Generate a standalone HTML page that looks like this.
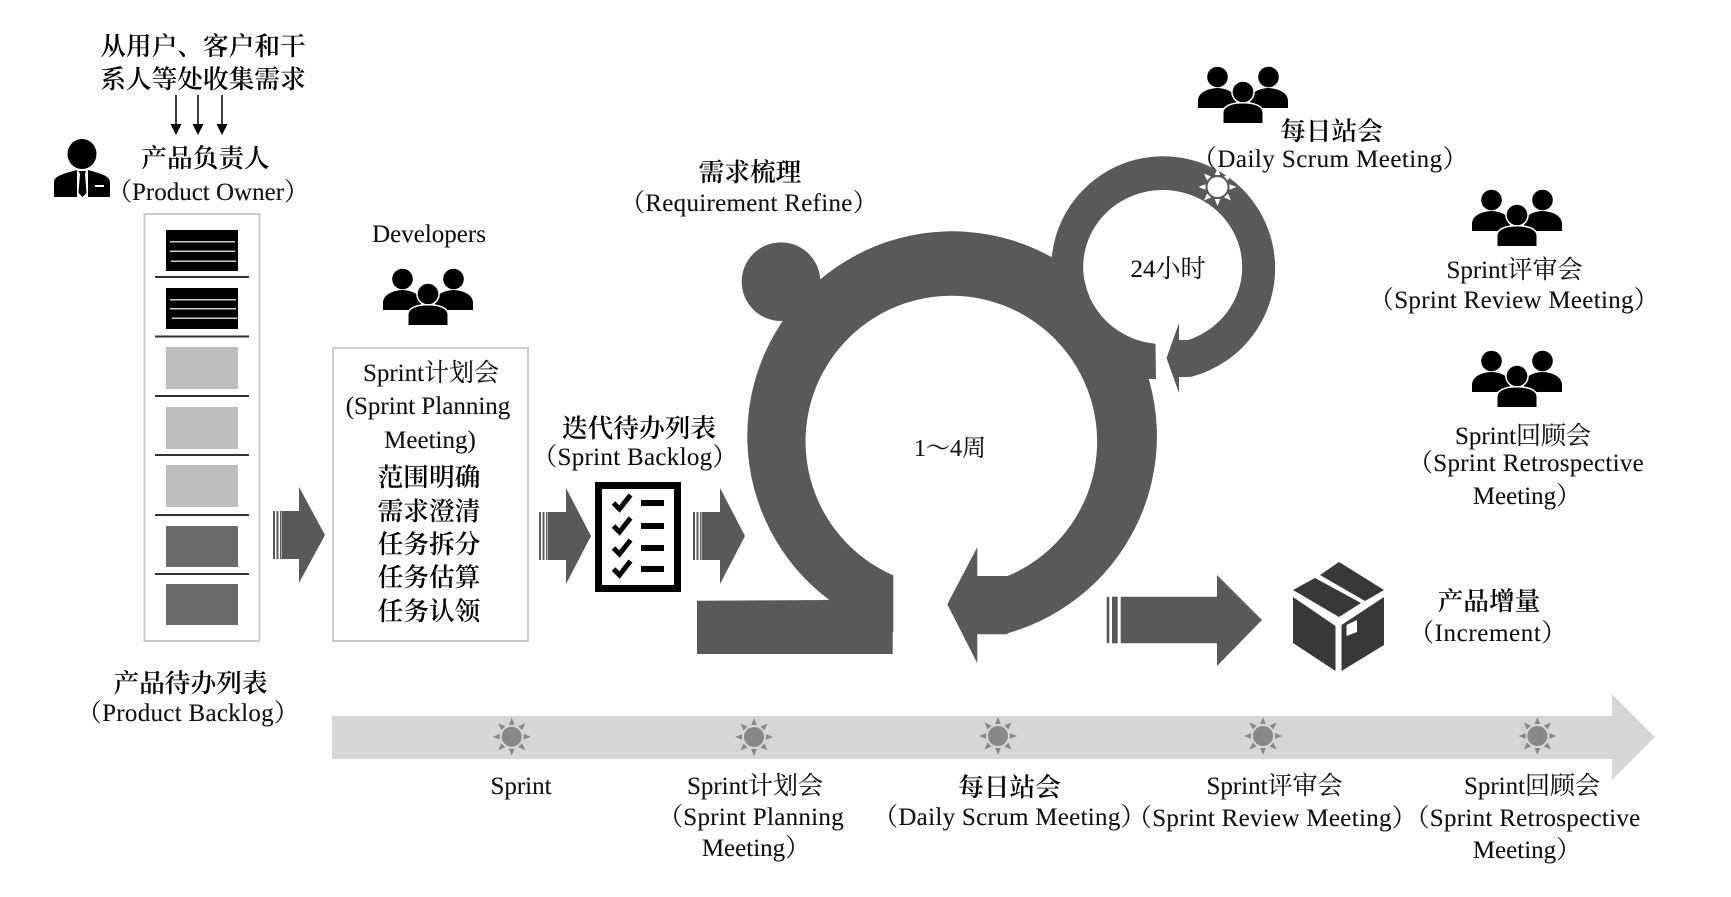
<!DOCTYPE html>
<html lang="zh"><head><meta charset="utf-8"><title>Scrum</title>
<style>
html,body{margin:0;padding:0;background:#fff;width:1731px;height:897px;overflow:hidden}
svg{display:block}
text{font-family:"Liberation Serif","Noto Serif CJK SC",serif;font-size:25px;fill:#111;text-anchor:middle;stroke:#111;stroke-width:.12px}
.b{font-weight:600;font-size:25.7px;fill:#000;stroke:none}
.s3{letter-spacing:.3px}
.s4{letter-spacing:.45px}
.s6{letter-spacing:.6px}
</style></head><body>
<svg width="1731" height="897" viewBox="0 0 1731 897" xmlns="http://www.w3.org/2000/svg">
<defs>
<g id="sun"><circle r="10"/>
<polygon points="-2.800,-12 2.800,-12 0,-19"/><polygon transform="rotate(45)" points="-2.800,-12 2.800,-12 0,-19"/><polygon transform="rotate(90)" points="-2.800,-12 2.800,-12 0,-19"/><polygon transform="rotate(135)" points="-2.800,-12 2.800,-12 0,-19"/><polygon transform="rotate(180)" points="-2.800,-12 2.800,-12 0,-19"/><polygon transform="rotate(225)" points="-2.800,-12 2.800,-12 0,-19"/><polygon transform="rotate(270)" points="-2.800,-12 2.800,-12 0,-19"/><polygon transform="rotate(315)" points="-2.800,-12 2.800,-12 0,-19"/></g>
<g id="grp">
<circle cx="19.500" cy="10" r="10.300" fill="#000"/><circle cx="70.500" cy="10" r="10.300" fill="#000"/>
<path d="M0 41V34C0 26 9 21.500 19.500 21C30 21.500 38 26 38 34V41ZM52 41V34C52 26 60 21.500 70.500 21C81 21.500 90 26 90 34V41Z" fill="#000"/>
<circle cx="45" cy="25" r="10.300" fill="#000" stroke="#fff" stroke-width="3" paint-order="stroke"/>
<path d="M25.500 56V46C25.500 39 35 36.500 45 36.500C55 36.500 64.500 39 64.500 46V56Z" fill="#000" stroke="#fff" stroke-width="3" paint-order="stroke"/>
</g>
<g id="chk"><polyline points="-9,0 -3,6 8,-8" fill="none" stroke="#000" stroke-width="5"/><rect x="18.500" y="-3" width="23" height="6" fill="#000"/></g>
</defs>

<!-- top-left labels -->
<text class="b" x="203" y="55">从用户、客户和干</text>
<text class="b" x="203" y="88">系人等处收集需求</text>
<g stroke="#000" stroke-width="1.500"><line x1="176" y1="95" x2="176" y2="126"/><line x1="198" y1="95" x2="198" y2="126"/><line x1="222" y1="95" x2="222" y2="126"/></g>
<g fill="#000"><polygon points="170.500,124 181.500,124 176,135"/><polygon points="192.500,124 203.500,124 198,135"/><polygon points="216.500,124 227.500,124 222,135"/></g>
<text class="b" x="205.500" y="167">产品负责人</text>
<text x="208" y="200">（Product Owner）</text>

<!-- person -->
<ellipse cx="82" cy="154" rx="14.500" ry="15" fill="#000"/>
<path d="M54 197V183C54 177 58 175 77 170V197ZM88 170C106 175 110 177 110 183V197H88Z" fill="#000"/>
<polygon points="78.500,171 86,171 85,174 86.500,193 82.500,197 78.500,193 80,174" fill="#000"/>
<rect x="95" y="185" width="9" height="2" fill="#fff"/>

<!-- product backlog -->
<rect x="144.500" y="214" width="115" height="427" fill="#fff" stroke="#ccc" stroke-width="2"/>
<rect x="166" y="230" width="72" height="41" fill="#000"/>
<g fill="#ccc"><rect x="170" y="241" width="65" height="1.500"/><rect x="170" y="250.500" width="65" height="1.500"/><rect x="171" y="260.500" width="65" height="1.500"/></g>
<rect x="166" y="288" width="72" height="41" fill="#000"/>
<g fill="#ccc"><rect x="170" y="299" width="66" height="1.500"/><rect x="170" y="308" width="66" height="1.500"/><rect x="172" y="317.500" width="65" height="1.500"/></g>
<g fill="#bebebe"><rect x="166" y="347" width="72" height="42"/><rect x="166" y="407" width="72" height="42"/><rect x="166" y="465" width="72" height="42"/></g>
<g fill="#6a6a6a"><rect x="166" y="526" width="72" height="41"/><rect x="166" y="584" width="72" height="41"/></g>
<g fill="#333"><rect x="155" y="276" width="94" height="2"/><rect x="155" y="335.500" width="94" height="2"/><rect x="155" y="395" width="94" height="2"/><rect x="155" y="454" width="94" height="2"/><rect x="155" y="514" width="94" height="2"/><rect x="155" y="573" width="94" height="2"/></g>
<text class="b" x="190.500" y="692">产品待办列表</text>
<text class="s3" x="188" y="721">（Product Backlog）</text>

<!-- block arrows -->
<g fill="#595959">
<path d="M299 487L325 535L299 583V559H282V511H299Z"/><path d="M273 511h2v48h-2zM276.500 511h2v48h-2zM280 511h1.500v48H280z"/>
<path d="M566 488L591 536L566 584V560H548V512H566Z"/><path d="M539 512h2v48h-2zM542.500 512h2v48h-2zM546 512h1.500v48H546z"/>
<path d="M720 488L745 536L720 584V560H702V512H720Z"/><path d="M693 512h2v48h-2zM696.500 512h2v48h-2zM700 512h1.500v48H700z"/>
<path d="M1217 575L1262 620L1217 666V643.300H1120.700V596.700H1217Z"/><path d="M1106.700 596.700h2.600v46.600h-2.600zM1112 596.700h5.700v46.600H1112z"/>
</g>

<!-- developers and planning -->
<text x="429" y="242">Developers</text>
<use href="#grp" x="383" y="269"/>
<rect x="333" y="348" width="195" height="293" fill="#fff" stroke="#ccc" stroke-width="2"/>
<text x="431" y="381">Sprint计划会</text>
<text x="428" y="414">(Sprint Planning</text>
<text x="430" y="448">Meeting)</text>
<text class="b" x="429" y="486">范围明确</text>
<text class="b" x="429" y="520">需求澄清</text>
<text class="b" x="429" y="553">任务拆分</text>
<text class="b" x="429" y="586">任务估算</text>
<text class="b" x="429" y="620">任务认领</text>

<!-- sprint backlog -->
<text class="b" x="639" y="437">迭代待办列表</text>
<text class="s3" x="635" y="465">（Sprint Backlog）</text>
<rect x="598.500" y="485.500" width="79" height="103" fill="#fff" stroke="#000" stroke-width="7"/>
<use href="#chk" x="622.500" y="503"/><use href="#chk" x="622.500" y="526"/><use href="#chk" x="622.500" y="548"/><use href="#chk" x="622.500" y="569"/>

<!-- requirement refine -->
<text class="b" x="750" y="181">需求梳理</text>
<text class="s3" x="749" y="211">（Requirement Refine）</text>

<!-- main loop -->
<circle cx="781" cy="281.700" r="39.300" fill="#595959"/>
<path fill="#595959" d="M829.300 600L697 600.700V654H892.700V632.300H893.300V575.300A145.800 145.800 0 1 1 1007.700 576H977.300V547L947.300 604.300L977.300 663.300V634.300H1007.700V633.200A204.800 204.800 0 1 0 829.300 600Z"/>
<ellipse cx="1162.800" cy="267" rx="79.500" ry="77" fill="#fff"/>
<path fill="#595959" d="M1155.500 343.700A79.500 77 0 1 1 1188 340H1179V323L1166.500 358L1179 393V377H1190A112 112 0 1 0 1051.700 257L1148 379H1156Z"/>
<use href="#sun" x="1217.500" y="187" fill="#fff"/>
<text x="1168" y="277">24小时</text>
<text x="950" y="456" style="font-size:24px">1～4周</text>

<!-- right labels -->
<use href="#grp" x="1198" y="67"/>
<text class="b" x="1331.500" y="140">每日站会</text>
<text class="s4" x="1330" y="167">（Daily Scrum Meeting）</text>
<use href="#grp" x="1472" y="190"/>
<text x="1514.500" y="278">Sprint评审会</text>
<text class="s3" x="1514" y="308">（Sprint Review Meeting）</text>
<use href="#grp" x="1472" y="351"/>
<text x="1523" y="444">Sprint回顾会</text>
<text class="s3" x="1526" y="471">（Sprint Retrospective</text>
<text x="1527" y="504">Meeting）</text>

<!-- increment -->
<g fill="#383838">
<polygon points="1293,597 1335.500,626 1335.500,671 1293,643"/>
<path d="M1341.500 625L1384 597V645L1341.500 671ZM1346.500 625V636L1357 632V620Z" fill-rule="evenodd"/>
<polygon points="1293,590 1315,578 1361,603 1339,617"/>
<polygon points="1320,575 1339,562 1384,590 1365,601"/>
</g>
<text class="b" x="1489" y="610">产品增量</text>
<text class="s6" x="1488" y="641">（Increment）</text>

<!-- timeline -->
<polygon points="332,716 1612,716 1612,694 1655,737 1612,780 1612,759 332,759" fill="#d6d6d6"/>
<g fill="#888"><use href="#sun" x="511.700" y="736.700"/><use href="#sun" x="754" y="737"/><use href="#sun" x="998" y="736"/><use href="#sun" x="1263" y="736"/><use href="#sun" x="1537.400" y="736"/></g>
<text x="521" y="794">Sprint</text>
<text x="755" y="794">Sprint计划会</text>
<text class="s3" x="751" y="825">（Sprint Planning</text>
<text x="756" y="856">Meeting）</text>
<text class="b" x="1009.500" y="796">每日站会</text>
<text class="s3" x="1009.500" y="825">（Daily Scrum Meeting）</text>
<text x="1274.500" y="794">Sprint评审会</text>
<text class="s3" x="1272" y="826">（Sprint Review Meeting）</text>
<text x="1532" y="794">Sprint回顾会</text>
<text class="s3" x="1522.500" y="826">（Sprint Retrospective</text>
<text x="1527" y="858">Meeting）</text>
</svg>
</body></html>
